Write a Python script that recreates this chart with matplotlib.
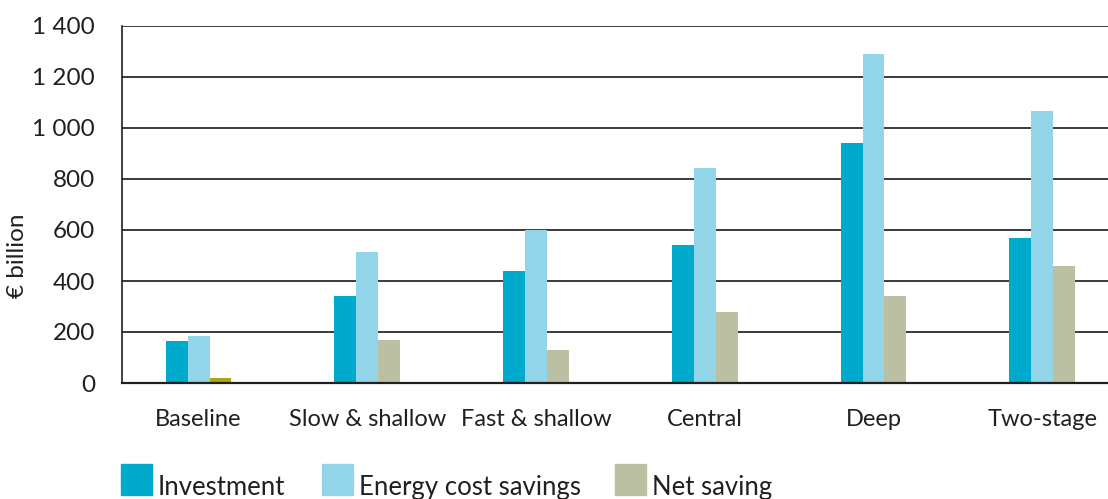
import matplotlib
matplotlib.use("Agg")
import matplotlib.pyplot as plt
import numpy as np
from matplotlib.patches import Rectangle

categories = ["Baseline", "Slow & shallow", "Fast & shallow", "Central", "Deep", "Two-stage"]
investment = [165, 340, 440, 540, 940, 570]
energy_savings = [185, 515, 600, 845, 1290, 1065]
net_saving = [20, 170, 130, 280, 340, 460]
series_names = ["Investment", "Energy cost savings", "Net saving"]
yticks = [0, 200, 400, 600, 800, 1000, 1200, 1400]
ytick_labels = ["0", "200", "400", "600", "800", "1 000", "1 200", "1 400"]

c_inv = "#00aacd"
c_energy = "#93d5e8"
c_net = "#bcc0a3"
c_net_base = "#a9a80c"

plt.rcParams['font.family'] = ['Lato', 'DejaVu Sans']

W, H = 1108, 499
fig = plt.figure(figsize=(W / 100, H / 100), dpi=100)
ax_left, ax_right, ax_top, ax_bottom = 122, 1108, 26, 383
ax = fig.add_axes([ax_left / W, 1 - ax_bottom / H, (ax_right - ax_left) / W, (ax_bottom - ax_top) / H])

x = np.arange(len(categories))
bw = 0.13
net_colors = [c_net_base] + [c_net] * (len(categories) - 1)
ax.bar(x - bw, investment, width=bw, color=c_inv, zorder=3)
ax.bar(x, energy_savings, width=bw, color=c_energy, zorder=3)
ax.bar(x + bw, net_saving, width=bw, color=net_colors, zorder=3)

fs = 17.5
ax.set_xlim(-0.454, 5.39)
ax.set_ylim(0, 1400)
ax.set_yticks(yticks)
ax.set_yticklabels(ytick_labels, fontsize=fs, color="#231f20")
ax.set_xticks(x)
ax.set_xticklabels(categories, fontsize=17, color="#231f20")
ax.tick_params(axis='both', length=0)
ax.tick_params(axis='y', pad=19.5)
ax.tick_params(axis='x', pad=19)
ax.yaxis.grid(True, color="#3a3a3a", linewidth=1.4, zorder=0)
ax.set_axisbelow(True)
for s in ["top", "right"]:
    ax.spines[s].set_visible(False)
ax.spines["left"].set_color("#231f20")
ax.spines["left"].set_linewidth(1.2)
ax.spines["bottom"].set_color("#231f20")
ax.spines["bottom"].set_linewidth(1.6)
ax.spines["bottom"].set_zorder(4)

fig.text(17 / W, 1 - 256 / H, "€ billion", rotation=90, fontsize=fs, color="#231f20",
         ha="center", va="center")

# legend
leg_x = [121, 322, 615]
leg_colors = [c_inv, c_energy, c_net]
for lx, lc, name in zip(leg_x, leg_colors, series_names):
    fig.patches.append(Rectangle((lx / W, 1 - 495 / H), 31 / W, 31 / H,
                                 transform=fig.transFigure, color=lc))
    fig.text((lx + 37) / W, 1 - 495 / H, name, fontsize=fs + 1, color="#231f20",
             ha="left", va="baseline")

fig.savefig("out.png", dpi=100)
